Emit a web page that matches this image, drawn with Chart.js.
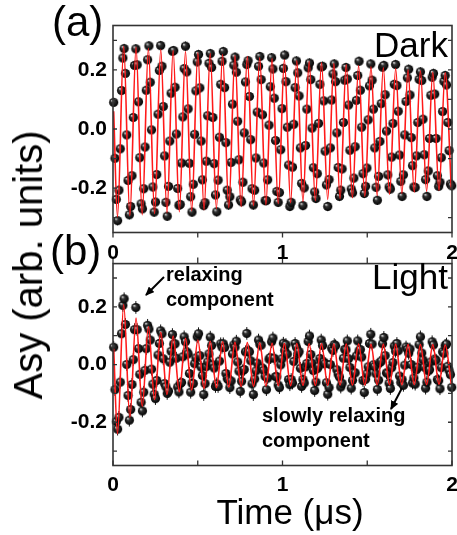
<!DOCTYPE html>
<html><head><meta charset="utf-8">
<script src="https://cdn.jsdelivr.net/npm/chart.js@4.4.1/dist/chart.umd.min.js"></script>
<style>
html,body{margin:0;padding:0;width:457px;height:535px;overflow:hidden;background:#fff;}
#wrap{position:relative;width:457px;height:535px;overflow:hidden;}
canvas{position:absolute;left:0;}
.lbl{position:absolute;white-space:nowrap;line-height:1;color:#000;}
.big{font-family:"Liberation Sans",Arial,sans-serif;}
.ann{font-family:"Liberation Sans",Arial,sans-serif;font-weight:bold;font-size:20px;}
</style></head><body>
<div id="wrap">
<canvas id="cB" width="470" height="290" style="top:245px"></canvas>
<canvas id="cA" width="470" height="272" style="top:0px"></canvas>
<div class="lbl big" style="left:52px;top:1px;font-size:42px">(a)</div>
<div class="lbl big" style="left:50px;top:230px;font-size:42px">(b)</div>
<div class="lbl big" style="right:9px;top:27px;font-size:35px">Dark</div>
<div class="lbl big" style="right:9px;top:259px;font-size:35px">Light</div>
<div class="lbl ann" style="left:166px;top:264px">relaxing</div>
<div class="lbl ann" style="left:166px;top:289px">component</div>
<div class="lbl ann" style="left:262px;top:405px">slowly relaxing</div>
<div class="lbl ann" style="left:262px;top:430px">component</div>
<div class="lbl big" style="left:28px;top:265px;font-size:40px;transform:translate(-50%,-50%) rotate(-90deg)">Asy (arb. units)</div>
<div class="lbl big" style="left:290px;top:494px;font-size:35px;transform:translateX(-50%)">Time (μs)</div>
<svg width="457" height="535" style="position:absolute;left:0;top:0">
<defs><marker id="ah" markerWidth="9" markerHeight="8" refX="8" refY="4" orient="auto" markerUnits="userSpaceOnUse"><path d="M0,0 L9,4 L0,8 z" fill="#000"/></marker></defs>
<line x1="164" y1="277" x2="146" y2="295" stroke="#000" stroke-width="2" marker-end="url(#ah)"/>
<line x1="402" y1="388" x2="391" y2="409" stroke="#000" stroke-width="2" marker-end="url(#ah)"/>
</svg>
</div>
<script>
// ---- data ----
const BIN_START_US = 0.004;   // first time bin (µs)
const BIN_WIDTH_US = 0.0077;  // time bin width (µs)

const darkAsy = [
0.090,-0.099,-0.238,-0.310,-0.207,-0.067,0.130,0.240,0.272,0.188,-0.020,-0.174,-0.290,-0.262,-0.158,0.039,0.215,0.271,0.217,
0.092,-0.097,-0.253,-0.270,-0.202,-0.061,0.131,0.234,0.281,0.158,-0.003,-0.196,-0.281,-0.247,-0.154,0.050,0.198,0.282,0.212,
0.076,-0.091,-0.248,-0.295,-0.194,-0.041,0.121,0.263,0.265,0.141,-0.017,-0.201,-0.258,-0.255,-0.115,0.041,0.204,0.280,0.193,
0.068,-0.116,-0.229,-0.281,-0.187,-0.018,0.129,0.227,0.252,0.139,-0.041,-0.172,-0.259,-0.249,-0.109,0.045,0.222,0.255,0.208,
0.039,-0.117,-0.223,-0.280,-0.173,-0.028,0.151,0.229,0.262,0.140,-0.046,-0.207,-0.257,-0.229,-0.113,0.084,0.216,0.243,0.192,
0.026,-0.104,-0.240,-0.246,-0.180,-0.013,0.159,0.218,0.231,0.110,-0.036,-0.202,-0.257,-0.207,-0.098,0.057,0.212,0.245,0.167,
0.048,-0.115,-0.242,-0.242,-0.172,0.013,0.143,0.241,0.203,0.104,-0.039,-0.211,-0.248,-0.215,-0.070,0.069,0.205,0.250,0.160,
0.006,-0.122,-0.262,-0.248,-0.129,0.016,0.140,0.230,0.190,0.112,-0.064,-0.184,-0.259,-0.199,-0.056,0.067,0.207,0.223,0.167,
0.003,-0.131,-0.213,-0.235,-0.151,0.019,0.151,0.210,0.212,0.095,-0.075,-0.189,-0.262,-0.171,-0.064,0.098,0.186,0.220,0.160,
-0.013,-0.130,-0.228,-0.207,-0.135,0.022,0.165,0.208,0.169,0.081,-0.072,-0.203,-0.216,-0.166,-0.060,0.097,0.181,0.229,0.131,
0.006,-0.151,-0.218,-0.194,-0.132,0.031,0.146,0.220,0.165,0.067,-0.064,-0.197,-0.241,-0.160,-0.042,0.086,0.209,0.215,0.116,
-0.007,-0.155,-0.196,-0.203,-0.095,0.019,0.151,0.218,0.147,0.060,-0.088,-0.177,-0.228,-0.155,-0.020,0.093,0.173,0.202,0.115,
-0.029,-0.124,-0.196,-0.198,-0.091,0.022,0.168,0.193,0.164,0.033,-0.087,-0.171,-0.228,-0.142,-0.032,0.114,0.175,0.188,0.118,
-0.032,-0.158,-0.194,-0.180,-0.097,0.059,0.161,0.181,0.149,0.022,-0.073,-0.186,-0.192
];

const lightAsy = [
0.060,-0.087,-0.198,-0.224,-0.183,-0.061,0.107,0.205,0.228,0.139,0.000,-0.107,-0.193,-0.156,-0.069,0.017,0.121,0.198,0.121,
0.055,-0.034,-0.131,-0.161,-0.096,-0.020,0.055,0.136,0.123,0.085,-0.016,-0.068,-0.103,-0.118,-0.055,0.033,0.073,0.117,0.107,
0.020,-0.066,-0.077,-0.100,-0.092,0.008,0.046,0.104,0.071,0.072,0.022,-0.078,-0.095,-0.066,-0.062,0.027,0.096,0.079,0.044,
0.037,-0.031,-0.096,-0.065,-0.066,0.003,0.023,0.096,0.107,0.031,-0.009,-0.038,-0.104,-0.066,-0.007,0.009,0.037,0.095,0.066,
-0.001,-0.012,-0.076,-0.067,-0.076,0.012,0.072,0.060,0.072,0.059,-0.031,-0.049,-0.053,-0.080,-0.057,0.037,0.068,0.060,0.081,
0.009,-0.023,-0.093,-0.058,-0.021,-0.017,0.044,0.108,0.048,0.044,0.013,-0.067,-0.104,-0.050,-0.022,0.005,0.085,0.070,0.067,
-0.012,-0.020,-0.041,-0.087,-0.047,0.019,0.024,0.079,0.092,0.022,-0.042,-0.042,-0.071,-0.080,-0.001,0.020,0.074,0.049,0.069,
0.036,-0.052,-0.070,-0.052,-0.064,0.011,0.073,0.060,0.037,0.045,-0.013,-0.076,-0.052,-0.064,-0.008,0.004,0.080,0.099,0.035,
0.005,-0.021,-0.090,-0.061,-0.014,-0.006,0.021,0.085,0.066,0.009,0.003,-0.063,-0.103,-0.080,0.000,0.057,0.049,0.069,0.065,
-0.018,-0.034,-0.043,-0.078,-0.065,0.022,0.053,0.051,0.082,0.020,-0.010,-0.082,-0.055,-0.027,-0.029,0.030,0.082,0.047,0.052,
0.026,-0.055,-0.097,-0.051,-0.032,-0.008,0.073,0.105,0.071,-0.001,-0.007,-0.032,-0.086,-0.054,0.007,0.012,0.072,0.094,0.031,
-0.029,-0.030,-0.065,-0.083,-0.011,0.007,0.064,0.046,0.073,0.048,-0.040,-0.062,-0.052,-0.072,-0.002,0.061,0.053,0.039,0.054,
0.000,-0.064,-0.047,-0.068,-0.018,-0.009,0.069,0.096,0.040,0.016,-0.009,-0.082,-0.061,-0.022,-0.018,0.009,0.079,0.068,0.019,
0.015,-0.052,-0.056,-0.084,-0.011,0.044,0.039,0.066,0.071,-0.006,-0.021,-0.035,-0.079
];

// fit curve: start point then successive extrema (µs)
const fitTimes = [0.004,0.0265,0.063,0.0995,0.1359,0.1724,0.2089,0.2454,0.2818,0.3183,0.3548,0.3913,0.4277,0.4642,0.5007,0.5372,0.5736,0.6101,0.6466,0.683,0.7195,0.756,0.7925,0.8289,0.8654,0.9019,0.9384,0.9748,1.0113,1.0478,1.0843,1.1207,1.1572,1.1937,1.2302,1.2666,1.3031,1.3396,1.376,1.4125,1.449,1.4855,1.5219,1.5584,1.5949,1.6314,1.6678,1.7043,1.7408,1.7773,1.8137,1.8502,1.8867,1.9232,1.9596,1.9961];
const darkFit = [0.060,-0.297,0.279,-0.293,0.276,-0.290,0.272,-0.286,0.269,-0.283,0.265,-0.280,0.262,-0.276,0.258,-0.273,0.255,-0.269,0.252,-0.266,0.248,-0.262,0.245,-0.259,0.241,-0.256,0.238,-0.252,0.234,-0.249,0.231,-0.245,0.228,-0.242,0.224,-0.238,0.221,-0.235,0.217,-0.232,0.214,-0.228,0.210,-0.225,0.207,-0.221,0.204,-0.218,0.200,-0.214,0.197,-0.211,0.193,-0.208,0.190,-0.204];
const lightFit = [0.055,-0.240,0.208,-0.183,0.161,-0.145,0.131,-0.121,0.112,-0.104,0.099,-0.094,0.091,-0.088,0.085,-0.083,0.081,-0.080,0.079,-0.078,0.077,-0.076,0.076,-0.075,0.075,-0.074,0.074,-0.073,0.073,-0.073,0.073,-0.072,0.072,-0.072,0.072,-0.072,0.071,-0.071,0.071,-0.071,0.071,-0.071,0.070,-0.070,0.070,-0.070,0.070,-0.070,0.069,-0.069,0.069,-0.069,0.069,-0.068,0.068,-0.068];

const DARK_ERR = 0.016, LIGHT_ERR = 0.022;
const yLabelValues = [-0.2, 0.0, 0.2];
const yTickValues = [-0.3,-0.2,-0.1,0,0.1,0.2,0.3];
const xLabelValues = [0, 1, 2];
const xTickValues = [0, 0.5, 1, 1.5, 2];

// ---- drawing ----
function ballImage(){
  const s = 11, r = 4.6;
  const c = document.createElement('canvas'); c.width = s; c.height = s;
  const g = c.getContext('2d');
  const grd = g.createRadialGradient(s/2-1.7, s/2-1.9, 0.2, s/2, s/2, r);
  grd.addColorStop(0, '#e4e4e4'); grd.addColorStop(0.32, '#333'); grd.addColorStop(1, '#000');
  g.fillStyle = grd; g.beginPath(); g.arc(s/2, s/2, r, 0, Math.PI*2); g.fill();
  return c;
}
const BALL = ballImage();

const framePlugin = {
  id: 'frame',
  afterDatasetsDraw(chart, args, o) {
    const {ctx, chartArea: a, scales: {x, y}} = chart;
    ctx.save();
    ctx.strokeStyle = '#333'; ctx.lineWidth = 1.6;
    ctx.strokeRect(a.left, a.top, a.right - a.left, a.bottom - a.top);
    ctx.lineWidth = 1.3; ctx.beginPath();
    yTickValues.forEach(v => {
      const p = y.getPixelForValue(v);
      ctx.moveTo(a.left, p); ctx.lineTo(a.left + 4, p);
      ctx.moveTo(a.right, p); ctx.lineTo(a.right - 4, p);
    });
    xTickValues.forEach(v => {
      const p = x.getPixelForValue(v);
      if (o.bottom === 'in') { ctx.moveTo(p, a.bottom); ctx.lineTo(p, a.bottom - 5); }
      else { ctx.moveTo(p, a.bottom); ctx.lineTo(p, a.bottom + 5); }
      if (o.top === 'out') { ctx.moveTo(p, a.top); ctx.lineTo(p, a.top - 6); }
    });
    ctx.stroke(); ctx.restore();
  }
};
const errPlugin = {
  id: 'errbars',
  beforeDatasetsDraw(chart, args, o) {
    const {ctx, scales: {y}} = chart;
    const meta = chart.getDatasetMeta(1), ds = chart.data.datasets[1];
    ctx.save(); ctx.strokeStyle = '#111'; ctx.lineWidth = 1; ctx.beginPath();
    meta.data.forEach((pt, i) => {
      const v = ds.data[i].y;
      ctx.moveTo(pt.x, y.getPixelForValue(v - o.err));
      ctx.lineTo(pt.x, y.getPixelForValue(v + o.err));
    });
    ctx.stroke(); ctx.restore();
  }
};

const tickFont = {family: 'Liberation Sans', weight: 'bold', size: 21};

function makeChart(id, asy, fit, err, padTop, xAxisH, xLabelPad, tickOpts) {
  const pts = asy.map((v, i) => ({x: BIN_START_US + i * BIN_WIDTH_US, y: v}));
  const fitPts = fit.map((v, i) => ({x: fitTimes[i], y: v}));
  return new Chart(document.getElementById(id), {
    type: 'line',
    data: {datasets: [
      {data: fitPts, borderColor: '#ff1a1a', borderWidth: 1.6, pointRadius: 0,
       cubicInterpolationMode: 'monotone', order: 0, clip: 2},
      {data: pts, showLine: false, pointStyle: BALL, pointRadius: 4.5, order: 1, clip: 6}
    ]},
    options: {
      responsive: false, animation: false, devicePixelRatio: 1, events: [],
      layout: {padding: {left: 0, right: 18, top: padTop, bottom: 0}},
      plugins: {legend: {display: false}, tooltip: {enabled: false},
                frame: tickOpts, errbars: {err: err}},
      scales: {
        x: {type: 'linear', min: 0, max: 2,
            grid: {display: false, drawTicks: false}, border: {display: false},
            afterBuildTicks: s => { s.ticks = xLabelValues.map(v => ({value: v})); },
            afterFit: s => { s.height = xAxisH; },
            ticks: {font: tickFont, color: '#000', padding: xLabelPad, maxRotation: 0,
                    callback: v => String(v)}},
        y: {type: 'linear', min: -0.35, max: 0.35,
            grid: {display: false, drawTicks: false}, border: {display: false},
            afterBuildTicks: s => { s.ticks = yLabelValues.map(v => ({value: v})); },
            afterFit: s => { s.width = 113; },
            ticks: {font: tickFont, color: '#000', padding: 6,
                    callback: v => Number(v).toFixed(1)}}
      }
    },
    plugins: [errPlugin, framePlugin]
  });
}

makeChart('cA', darkAsy, darkFit, DARK_ERR, 25.5, 272 - 232.5, 8, {bottom: 'out', top: 'none'});
makeChart('cB', lightAsy, lightFit, LIGHT_ERR, 13, 290 - 220.5, 7, {bottom: 'in', top: 'out'});
</script>
</body></html>
